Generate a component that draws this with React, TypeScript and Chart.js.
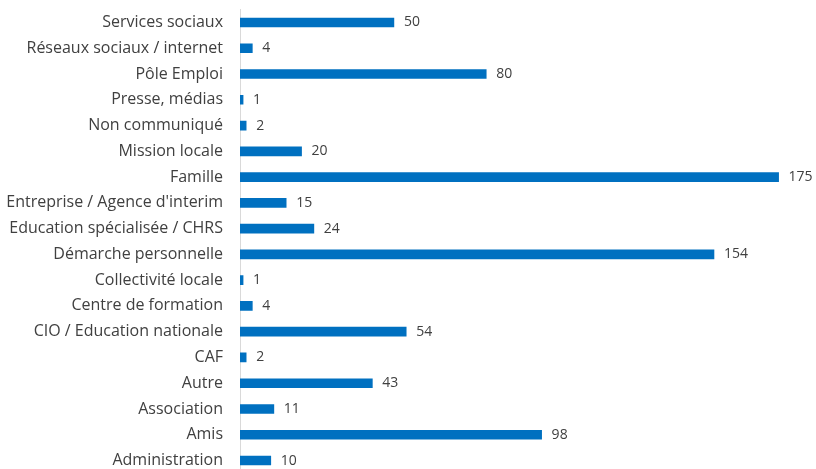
import React, { useEffect, useRef } from "react";
import { Chart, registerables } from "chart.js";

Chart.register(...registerables);

const categories = [
  "Services sociaux",
  "Réseaux sociaux / internet",
  "Pôle Emploi",
  "Presse, médias",
  "Non communiqué",
  "Mission locale",
  "Famille",
  "Entreprise / Agence d'interim",
  "Education spécialisée / CHRS",
  "Démarche personnelle",
  "Collectivité locale",
  "Centre de formation",
  "CIO / Education nationale",
  "CAF",
  "Autre",
  "Association",
  "Amis",
  "Administration",
];

const values = [50, 4, 80, 1, 2, 20, 175, 15, 24, 154, 1, 4, 54, 2, 43, 11, 98, 10];

const FONT = "'Open Sans', 'Liberation Sans', sans-serif";

const valueLabels = {
  id: "valueLabels",
  afterDatasetsDraw(chart: any) {
    const ctx = chart.ctx;
    const meta = chart.getDatasetMeta(0);
    ctx.save();
    ctx.font = `14px ${FONT}`;
    ctx.fillStyle = "#404040";
    ctx.textAlign = "left";
    ctx.textBaseline = "middle";
    meta.data.forEach((bar: any, i: number) => {
      ctx.fillText(String(values[i]), bar.x + 10, bar.y);
    });
    ctx.restore();
  },
};

export default function App() {
  const ref = useRef<HTMLCanvasElement | null>(null);
  useEffect(() => {
    if (!ref.current) return;
    const chart = new Chart(ref.current, {
      type: "bar",
      data: {
        labels: categories,
        datasets: [
          {
            data: values,
            backgroundColor: "#0070c0",
            borderWidth: 0,
            barThickness: 9,
          },
        ],
      },
      options: {
        indexAxis: "y",
        responsive: false,
        animation: false,
        layout: { padding: { top: 7.5, bottom: 2, right: 22, left: 0 } },
        plugins: { legend: { display: false }, tooltip: { enabled: false } },
        scales: {
          x: { display: false, min: 0, max: 180 },
          y: {
            afterFit: (axis: any) => {
              axis.width = 240;
            },
            grid: { display: false, drawTicks: false },
            border: { display: true, color: "#d9d9d9", width: 1 },
            ticks: {
              padding: 17,
              color: "#404040",
              font: { family: FONT, size: 16 },
              autoSkip: false,
            },
          },
        },
      },
      plugins: [valueLabels],
    });
    return () => chart.destroy();
  }, []);
  return (
    <div style={{ position: "absolute", left: 0, top: -17, width: 816, height: 517 }}>
      <canvas ref={ref} width={816} height={517} style={{ display: "block" }} />
    </div>
  );
}
